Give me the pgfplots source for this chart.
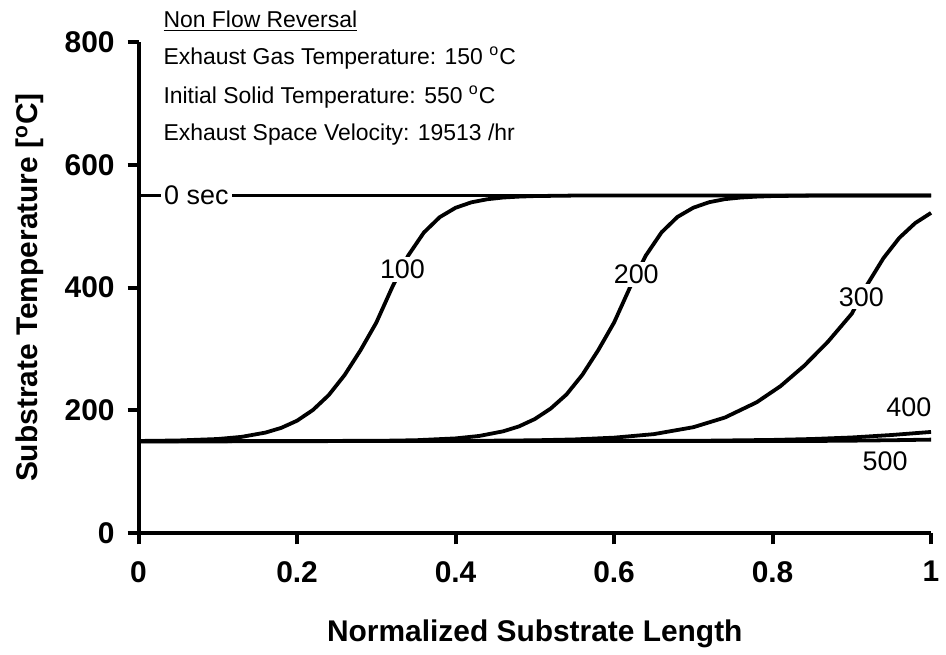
\documentclass[border=0pt]{standalone}
\usepackage{fontspec}
\setmainfont{Liberation Sans}
\usepackage{pgfplots}
\pgfplotsset{compat=1.18}

\begin{document}
\begin{tikzpicture}
\begin{axis}[
  scale only axis,
  width=397.5pt, height=246.5pt,
  xmin=0, xmax=1, ymin=0, ymax=800,
  axis lines*=left,
  axis line style={line width=2pt},
  xtick={0,0.2,0.4,0.6,0.8,1},
  ytick={0,200,400,600,800},
  tick align=outside,
  major tick length=5.5pt,
  tick style={line width=2pt, black},
  /pgf/number format/assume math mode=true,
  tick label style={font=\fontsize{15}{16}\selectfont\bfseries},
  xticklabel style={yshift=-5pt},
  yticklabel style={xshift=-3pt},
  xlabel={Normalized Substrate Length},
  ylabel={Substrate Temperature [\textsuperscript{o}C]},
  label style={font=\fontsize{15}{16}\selectfont\bfseries},
  xlabel style={at={(axis description cs:0.5,-0.205)}, anchor=center},
  ylabel style={at={(axis description cs:-0.137,0.5)}, anchor=center},
  clip=false,
  curve/.style={black, line width=1.9pt, line join=round},
]
% 0 sec
\addplot[curve] coordinates {(0,550) (1,550)};
% 100 sec
\addplot[curve] coordinates {(0,150.3) (0.05,151.1) (0.1,153.5) (0.13,157.0) (0.16,163.9) (0.18,171.6) (0.2,183.3) (0.22,200.7) (0.24,225) (0.26,257.6) (0.28,297.8) (0.30,343) (0.32,400.3) (0.34,451.7) (0.36,489.6) (0.38,514.6) (0.40,529.9) (0.42,538.8) (0.44,543.8) (0.46,546.6) (0.48,548.1) (0.50,549.0) (0.55,549.8) (0.6,550) (1,550)};
% 200 sec
\addplot[curve] coordinates {(0,150) (0.3,150.5) (0.35,151.5) (0.4,154.5) (0.43,158.5) (0.46,166) (0.48,174) (0.5,186) (0.52,203) (0.54,226) (0.56,258) (0.58,298) (0.60,343) (0.62,400) (0.64,452) (0.66,490) (0.68,515) (0.70,530) (0.72,539) (0.74,544) (0.76,546.6) (0.78,548.1) (0.80,549) (0.85,549.8) (1,550)};
% 300 sec
\addplot[curve] coordinates {(0,150) (0.4,150.3) (0.5,151.4) (0.55,152.8) (0.6,155.7) (0.65,161.4) (0.7,172.7) (0.74,188.5) (0.78,213.3) (0.81,239.5) (0.84,272.8) (0.87,312) (0.90,357.5) (0.92,406) (0.94,448) (0.96,481) (0.98,505) (1.0,521.6)};
% 400 sec
\addplot[curve] coordinates {(0,150) (0.7,150.5) (0.8,152) (0.85,153.5) (0.9,156) (0.95,160) (1,165)};
% 500 sec
\addplot[curve] coordinates {(0,150) (0.85,150.3) (0.9,150.8) (0.95,151.5) (1,152.5)};

\begin{scope}[every node/.style={font=\fontsize{13.5}{14}\selectfont, fill=white, inner sep=1.5pt}]
\node at (axis cs:0.073,550) {0 sec};
\node at (axis cs:0.333,430) {100};
\node at (axis cs:0.628,422) {200};
\node at (axis cs:0.912,385) {300};
\node[fill=none] at (axis cs:0.972,205) {400};
\node[fill=none] at (axis cs:0.942,117) {500};
\end{scope}

\begin{scope}[every node/.style={font=\fontsize{11.5}{12}\selectfont, anchor=base west, inner sep=0pt}]
\node at (axis cs:0.031,824) {\underline{Non Flow Reversal}};
\node at (axis cs:0.031,763) {Exhaust Gas Temperature: 150 \textsuperscript{o}C};
\node at (axis cs:0.031,700) {Initial Solid Temperature: 550 \textsuperscript{o}C};
\node at (axis cs:0.031,640) {Exhaust Space Velocity: 19513 /hr};
\end{scope}
\end{axis}
\path (-69.5pt,-60.5pt) rectangle (403.5pt,267.5pt);
\end{tikzpicture}
\end{document}
